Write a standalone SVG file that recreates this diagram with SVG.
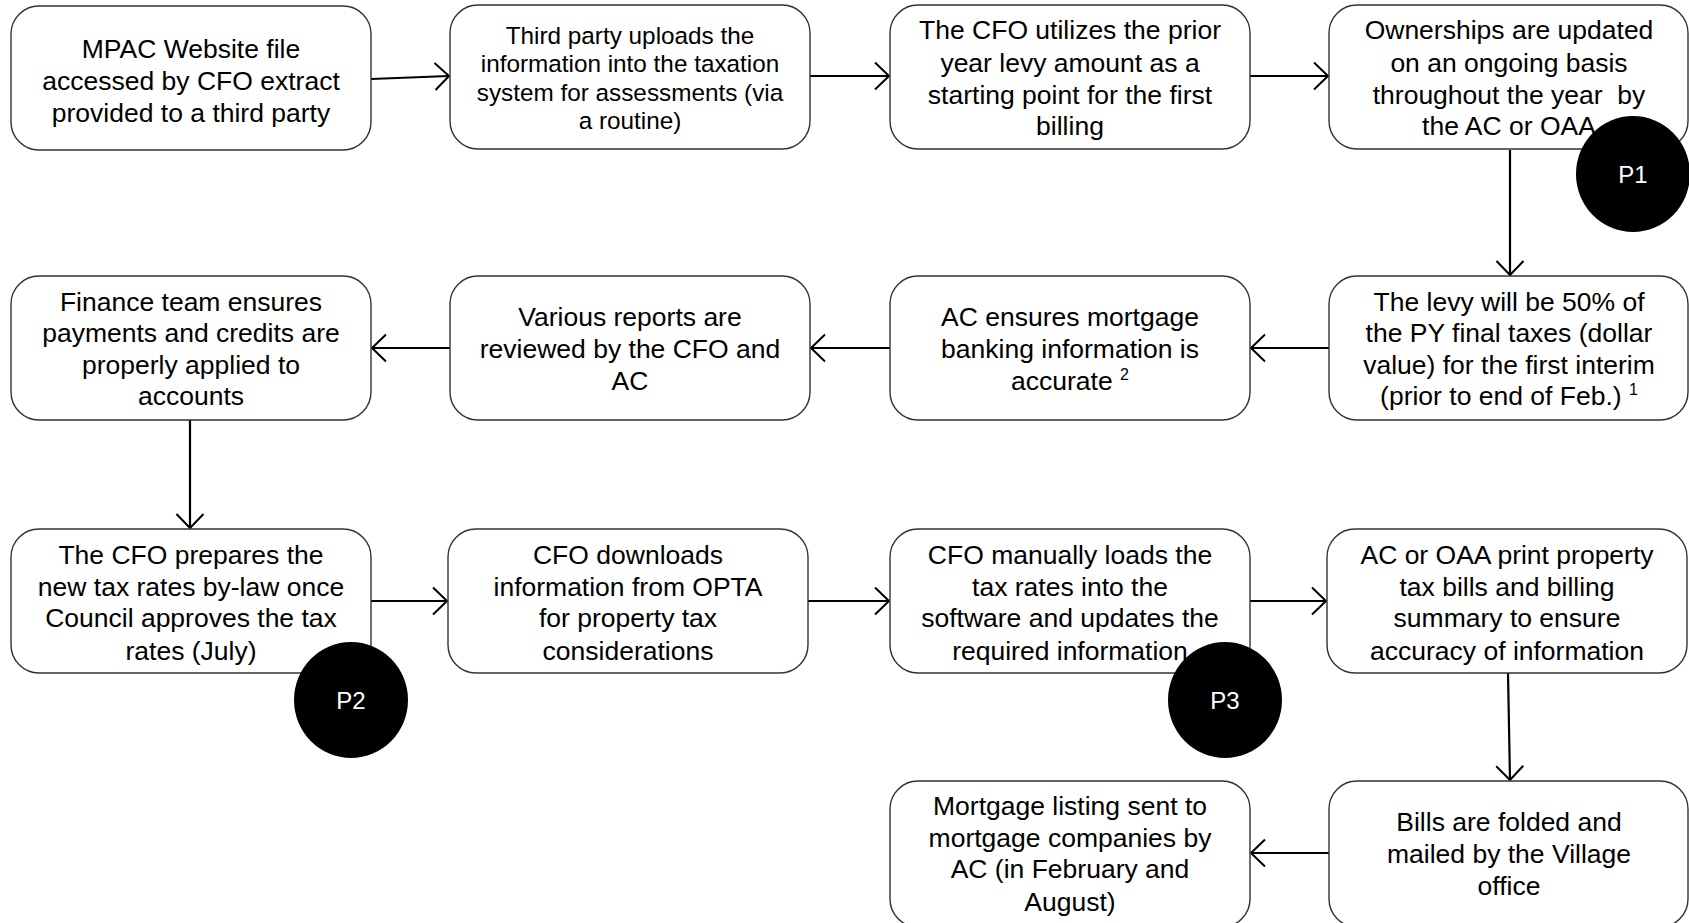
<svg xmlns="http://www.w3.org/2000/svg" width="1689" height="923" viewBox="0 0 1689 923">
<style>
.box{fill:#fff;stroke:#333;stroke-width:1.4}
.t{font-family:"Liberation Sans",Arial,sans-serif;font-size:26.5px;fill:#000;text-anchor:middle}
.ts{font-family:"Liberation Sans",Arial,sans-serif;font-size:24.3px;fill:#000;text-anchor:middle}
.sup{font-size:16px}
.c{fill:#000}
.ct{font-family:"Liberation Sans",Arial,sans-serif;font-size:24px;fill:#fff;text-anchor:middle}
.ln{stroke:#000;stroke-width:2.2;fill:none}
.a{marker-end:url(#ah)}
</style>
<defs>
<marker id="ah" viewBox="0 0 18 30" refX="16" refY="15" markerWidth="18" markerHeight="30" orient="auto" markerUnits="userSpaceOnUse">
<path d="M2,1.5 L16,15 L2,28.5" fill="none" stroke="#000" stroke-width="2"/>
</marker>
</defs>
<rect width="1689" height="923" fill="#fff"/>
<g id="connectors">
<line class="ln a" x1="371" y1="79" x2="449" y2="76"/>
<line class="ln a" x1="810" y1="76" x2="889" y2="76"/>
<line class="ln a" x1="1250" y1="76" x2="1328" y2="76"/>
<line class="ln a" x1="1510" y1="150" x2="1510" y2="275"/>
<line class="ln a" x1="1329" y1="348" x2="1251" y2="348"/>
<line class="ln a" x1="890" y1="348" x2="811" y2="348"/>
<line class="ln a" x1="450" y1="348" x2="372" y2="348"/>
<line class="ln a" x1="190" y1="420" x2="190" y2="528"/>
<line class="ln a" x1="371" y1="601" x2="447" y2="601"/>
<line class="ln a" x1="808" y1="601" x2="889" y2="601"/>
<line class="ln a" x1="1250" y1="601" x2="1326" y2="601"/>
<line class="ln a" x1="1508" y1="673" x2="1510" y2="780"/>
<line class="ln a" x1="1329" y1="853" x2="1251" y2="853"/>
</g>
<g id="n1"><rect class="box" x="11" y="6" width="360" height="144" rx="28"/>
<text class="t"><tspan x="191" y="58">MPAC Website file</tspan><tspan x="191" y="90">accessed by CFO extract</tspan><tspan x="191" y="122">provided to a third party</tspan></text></g>
<g id="n2"><rect class="box" x="450" y="5" width="360" height="144" rx="28"/>
<text class="ts"><tspan x="630" y="43.5">Third party uploads the</tspan><tspan x="630" y="72">information into the taxation</tspan><tspan x="630" y="101">system for assessments (via</tspan><tspan x="630" y="129">a routine)</tspan></text></g>
<g id="n3"><rect class="box" x="890" y="5" width="360" height="144" rx="28"/>
<text class="t"><tspan x="1070" y="39">The CFO utilizes the prior</tspan><tspan x="1070" y="71.5">year levy amount as a</tspan><tspan x="1070" y="104">starting point for the first</tspan><tspan x="1070" y="135">billing</tspan></text></g>
<g id="n4"><rect class="box" x="1329" y="5" width="359" height="144" rx="28"/>
<text class="t"><tspan x="1509" y="39">Ownerships are updated</tspan><tspan x="1509" y="71.5">on an ongoing basis</tspan><tspan x="1509" y="104">throughout the year&#160; by</tspan><tspan x="1509" y="135">the AC or OAA</tspan></text></g>
<g id="n5"><rect class="box" x="1329" y="276" width="359" height="144" rx="28"/>
<text class="t"><tspan x="1509" y="311">The levy will be 50% of</tspan><tspan x="1509" y="342">the PY final taxes (dollar</tspan><tspan x="1509" y="374">value) for the first interim</tspan><tspan x="1509" y="405">(prior to end of Feb.) <tspan class="sup" dy="-10">1</tspan></tspan></text></g>
<g id="n6"><rect class="box" x="890" y="276" width="360" height="144" rx="28"/>
<text class="t"><tspan x="1070" y="326">AC ensures mortgage</tspan><tspan x="1070" y="358">banking information is</tspan><tspan x="1070" y="390">accurate <tspan class="sup" dy="-10">2</tspan></tspan></text></g>
<g id="n7"><rect class="box" x="450" y="276" width="360" height="144" rx="28"/>
<text class="t"><tspan x="630" y="326">Various reports are</tspan><tspan x="630" y="358">reviewed by the CFO and</tspan><tspan x="630" y="390">AC</tspan></text></g>
<g id="n8"><rect class="box" x="11" y="276" width="360" height="144" rx="28"/>
<text class="t"><tspan x="191" y="311">Finance team ensures</tspan><tspan x="191" y="342">payments and credits are</tspan><tspan x="191" y="374">properly applied to</tspan><tspan x="191" y="405">accounts</tspan></text></g>
<g id="n9"><rect class="box" x="11" y="529" width="360" height="144" rx="28"/>
<text class="t"><tspan x="191" y="564">The CFO prepares the</tspan><tspan x="191" y="596">new tax rates by-law once</tspan><tspan x="191" y="627">Council approves the tax</tspan><tspan x="191" y="660">rates (July)</tspan></text></g>
<g id="n10"><rect class="box" x="448" y="529" width="360" height="144" rx="28"/>
<text class="t"><tspan x="628" y="564">CFO downloads</tspan><tspan x="628" y="596">information from OPTA</tspan><tspan x="628" y="627">for property tax</tspan><tspan x="628" y="660">considerations</tspan></text></g>
<g id="n11"><rect class="box" x="890" y="529" width="360" height="144" rx="28"/>
<text class="t"><tspan x="1070" y="564">CFO manually loads the</tspan><tspan x="1070" y="596">tax rates into the</tspan><tspan x="1070" y="627">software and updates the</tspan><tspan x="1070" y="660">required information</tspan></text></g>
<g id="n12"><rect class="box" x="1327" y="529" width="360" height="144" rx="28"/>
<text class="t"><tspan x="1507" y="564">AC or OAA print property</tspan><tspan x="1507" y="596">tax bills and billing</tspan><tspan x="1507" y="627">summary to ensure</tspan><tspan x="1507" y="660">accuracy of information</tspan></text></g>
<g id="n13"><rect class="box" x="1329" y="781" width="359" height="146" rx="28"/>
<text class="t"><tspan x="1509" y="831">Bills are folded and</tspan><tspan x="1509" y="863">mailed by the Village</tspan><tspan x="1509" y="895">office</tspan></text></g>
<g id="n14"><rect class="box" x="890" y="781" width="360" height="146" rx="28"/>
<text class="t"><tspan x="1070" y="815">Mortgage listing sent to</tspan><tspan x="1070" y="847">mortgage companies by</tspan><tspan x="1070" y="878">AC (in February and</tspan><tspan x="1070" y="911">August)</tspan></text></g>
<g id="p1"><ellipse class="c" cx="1633" cy="174" rx="57" ry="58"/><text class="ct" x="1633" y="183">P1</text></g>
<g id="p2"><ellipse class="c" cx="351" cy="700" rx="57" ry="58"/><text class="ct" x="351" y="709">P2</text></g>
<g id="p3"><ellipse class="c" cx="1225" cy="700" rx="57" ry="58"/><text class="ct" x="1225" y="709">P3</text></g>
</svg>
